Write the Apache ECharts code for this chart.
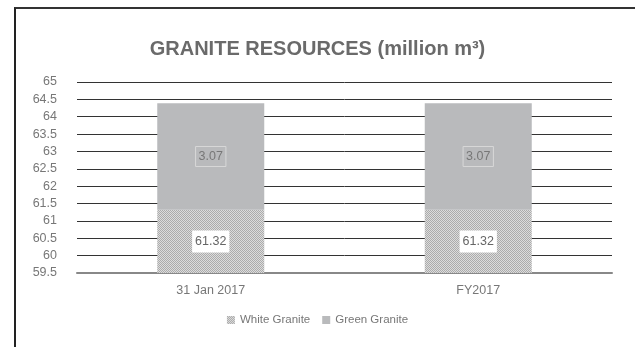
<!DOCTYPE html>
<html>
<head>
<meta charset="utf-8">
<script src="https://cdn.jsdelivr.net/npm/echarts@6/dist/echarts.min.js"></script>
<style>
  html, body { margin: 0; padding: 0; background: #fff; }
  #frame { position: absolute; left: 14px; top: 7px; width: 640px; height: 360px;
           border-left: 2px solid #222; border-top: 2px solid #333; }
  #chart { position: absolute; left: 0; top: 0; width: 635px; height: 347px; }
</style>
</head>
<body>
<div id="frame"></div>
<div id="chart"></div>
<script>
// data
const categories = ['31 Jan 2017', 'FY2017'];
const whiteGranite = [61.32, 61.32];
const greenGranite = [3.07, 3.07];
const totals = [64.39, 64.39];
const yTicks = { min: 59.5, max: 65, interval: 0.5 };

// checkered fill for white granite
function makePattern() {
  const c = document.createElement('canvas');
  c.width = 2; c.height = 2;
  const g = c.getContext('2d');
  g.fillStyle = '#dcdcdc'; g.fillRect(0, 0, 2, 2);
  g.fillStyle = '#ababab'; g.fillRect(0, 0, 1, 1); g.fillRect(1, 1, 1, 1);
  return { image: c, repeat: 'repeat' };
}
const pattern = makePattern();
const FONT = 'Liberation Sans';

const chart = echarts.init(document.getElementById('chart'), null, { renderer: 'canvas' });
chart.setOption({
  animation: false,
  backgroundColor: 'transparent',
  title: {
    text: 'GRANITE RESOURCES (million m³)',
    left: 'center', top: 34,
    textStyle: { color: '#6a6a6a', fontSize: 20, fontWeight: 'bold', fontFamily: FONT }
  },
  legend: {
    bottom: 16, left: 'center',
    itemWidth: 8, itemHeight: 8, itemGap: 12,
    textStyle: { color: '#777', fontSize: 11.5, fontFamily: FONT },
    data: [
      { name: 'White Granite', icon: 'rect' },
      { name: 'Green Granite', icon: 'rect' }
    ]
  },
  grid: { left: 77, right: 23, top: 82, bottom: 74 },
  xAxis: {
    type: 'category', data: categories,
    axisLine: { show: true, lineStyle: { color: '#888', width: 2 } },
    axisTick: { show: false },
    axisLabel: { color: '#777', fontSize: 12.5, fontFamily: FONT, margin: 11 }
  },
  yAxis: {
    type: 'value', min: yTicks.min, max: yTicks.max, interval: yTicks.interval,
    axisLine: { show: false }, axisTick: { show: false },
    axisLabel: { color: '#777', fontSize: 12.5, fontFamily: FONT, margin: 20 },
    splitLine: { lineStyle: { color: '#333', width: 1 } }
  },
  series: [
    {
      name: 'White Granite', type: 'bar', stack: 'g', barWidth: '40%',
      data: whiteGranite,
      itemStyle: { color: pattern },
      label: {
        show: true, position: 'inside', color: '#666', fontSize: 12.5, fontFamily: FONT,
        backgroundColor: '#fff', padding: [5, 3, 4, 3]
      }
    },
    {
      name: 'Green Granite', type: 'bar', stack: 'g', barWidth: '40%',
      data: greenGranite,
      itemStyle: { color: '#b9babc' },
      label: {
        show: true, position: 'inside', color: '#777', fontSize: 12.5, fontFamily: FONT,
        borderColor: '#d8d8d8', borderWidth: 1, padding: [4, 3, 3, 3]
      }
    },
    {
      name: 'Total', type: 'line', data: totals,
      symbol: 'none', lineStyle: { opacity: 0 }, silent: true,
      label: {
        show: true, position: 'top', distance: 6, color: '#666', fontSize: 12.5, fontFamily: FONT,
        backgroundColor: '#fff', padding: [1, 2]
      }
    }
  ]
});
</script>
</body>
</html>
